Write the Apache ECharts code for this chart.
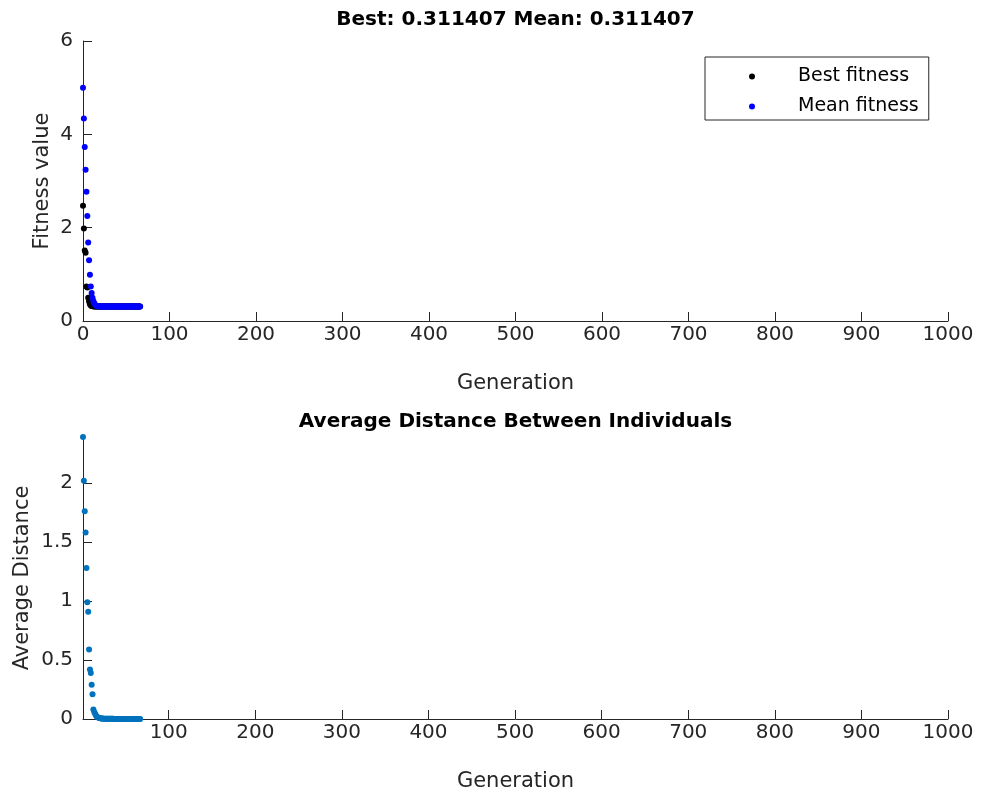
<!DOCTYPE html>
<html>
<head>
<meta charset="utf-8">
<script src="https://cdn.jsdelivr.net/npm/echarts@6/dist/echarts.min.js"></script>
<style>
html,body{margin:0;padding:0;background:#fff;}
#chart{width:982px;height:793px;}
</style>
</head>
<body>
<div id="chart"></div>
<script>
// ---- data ----
var topTitle = 'Best: 0.311407 Mean: 0.311407';
var bottomTitle = 'Average Distance Between Individuals';
var legendNames = ['Best fitness', 'Mean fitness'];
var genTicks = [0, 100, 200, 300, 400, 500, 600, 700, 800, 900, 1000];
var genTicksBottom = [100, 200, 300, 400, 500, 600, 700, 800, 900, 1000];
var fitnessTicks = [0, 2, 4, 6];
var distanceTicks = [0, 0.5, 1, 1.5, 2];
var firstGenTop = 0;
var firstGenBottom = 1;
var bestFitness = [2.47, 1.98, 1.51, 1.46, 0.74, 0.72, 0.50, 0.42, 0.36, 0.33,
  0.32, 0.316, 0.314, 0.313, 0.312, 0.3118, 0.3116, 0.3115, 0.3115, 0.3114,
  0.3114, 0.3114, 0.3114, 0.3114, 0.3114, 0.3114, 0.3114, 0.3114, 0.3114, 0.3114,
  0.3114, 0.3114, 0.3114, 0.3114, 0.3114, 0.3114, 0.3114, 0.3114, 0.3114, 0.3114,
  0.3114, 0.3114, 0.3114, 0.3114, 0.3114, 0.3114, 0.3114, 0.3114, 0.3114, 0.3114,
  0.3114, 0.3114, 0.3114, 0.3114, 0.3114, 0.3114, 0.3114, 0.3114, 0.3114, 0.3114,
  0.3114, 0.3114, 0.3114, 0.3114, 0.3114, 0.3114, 0.311407];
var meanFitness = [5.00, 4.34, 3.73, 3.24, 2.77, 2.25, 1.68, 1.30, 0.99, 0.74,
  0.60, 0.50, 0.43, 0.38, 0.35, 0.33, 0.32, 0.316, 0.314, 0.313,
  0.3125, 0.3121, 0.3119, 0.3117, 0.3116, 0.3115, 0.3115, 0.3114, 0.3114, 0.3114,
  0.3114, 0.3114, 0.3114, 0.3114, 0.3114, 0.3114, 0.3114, 0.3114, 0.3114, 0.3114,
  0.3114, 0.3114, 0.3114, 0.3114, 0.3114, 0.3114, 0.3114, 0.3114, 0.3114, 0.3114,
  0.3114, 0.3114, 0.3114, 0.3114, 0.3114, 0.3114, 0.3114, 0.3114, 0.3114, 0.3114,
  0.3114, 0.3114, 0.3114, 0.3114, 0.3114, 0.3114, 0.311407];
var avgDistance = [2.39, 2.02, 1.76, 1.58, 1.28, 0.99, 0.91, 0.59, 0.42, 0.39,
  0.29, 0.21, 0.08, 0.06, 0.045, 0.03, 0.02, 0.015, 0.011, 0.008,
  0.006, 0.005, 0.004, 0.0035, 0.003, 0.0028, 0.0025, 0.0022, 0.002, 0.0018,
  0.0016, 0.0015, 0.0014, 0.0013, 0.0012, 0.0011, 0.001, 0.001, 0.0009, 0.0009,
  0.0008, 0.0008, 0.0007, 0.0007, 0.0006, 0.0006, 0.0006, 0.0005, 0.0005, 0.0005,
  0.0004, 0.0004, 0.0004, 0.0004, 0.0003, 0.0003, 0.0003, 0.0003, 0.0003, 0.0002,
  0.0002, 0.0002, 0.0002, 0.0002, 0.0002, 0.0001, 0.0001];

// ---- build ----
function pairs(vals, start) {
  var out = [];
  for (var i = 0; i < vals.length; i++) out.push([start + i, vals[i]]);
  return out;
}
function plain(v) { return String(v); }
var FONT = 'DejaVu Sans';
var AX = '#262626';
function axisCommon() {
  return {
    axisLine: { show: true, onZero: false, lineStyle: { color: AX, width: 1 } },
    axisTick: { show: true, inside: true, length: 9, lineStyle: { color: AX, width: 1 } },
    splitLine: { show: false },
    nameMoveOverlap: false,
    nameTextStyle: { color: AX, fontSize: 21, fontFamily: FONT }
  };
}
function merge(a, b) { for (var k in b) a[k] = b[k]; return a; }

var chart = echarts.init(document.getElementById('chart'), null, { renderer: 'canvas' });
chart.setOption({
  animation: false,
  backgroundColor: '#ffffff',
  textStyle: { fontFamily: FONT },
  title: [
    { text: topTitle, left: 515.5, top: 10, textAlign: 'center', padding: 0,
      textStyle: { fontSize: 20, fontWeight: 'bold', color: '#000', fontFamily: FONT } },
    { text: bottomTitle, left: 515.5, top: 412, textAlign: 'center', padding: 0,
      textStyle: { fontSize: 20, fontWeight: 'bold', color: '#000', fontFamily: FONT } }
  ],
  legend: {
    data: legendNames,
    orient: 'vertical',
    left: 705, top: 57,
    padding: [10, 10, 4, 44],
    itemGap: 11,
    itemWidth: 6, itemHeight: 6,
    icon: 'circle',
    borderColor: AX, borderWidth: 1, borderRadius: 0,
    backgroundColor: '#ffffff',
    textStyle: { fontSize: 19, color: '#000', fontFamily: FONT, padding: [0, 0, 0, 38] }
  },
  grid: [
    { left: 83, top: 41, width: 865, height: 280 },
    { left: 83, top: 437, width: 865, height: 282 }
  ],
  xAxis: [
    merge(axisCommon(), {
      type: 'value', gridIndex: 0, min: genTicks[0], max: genTicks[genTicks.length - 1],
      interval: genTicks[1] - genTicks[0],
      name: 'Generation', nameLocation: 'middle', nameGap: 52,
      axisLabel: { color: AX, fontSize: 20, fontFamily: FONT, margin: 4, formatter: plain }
    }),
    merge(axisCommon(), {
      type: 'value', gridIndex: 1, min: firstGenBottom, max: genTicksBottom[genTicksBottom.length - 1],
      name: 'Generation', nameLocation: 'middle', nameGap: 52,
      axisLabel: { color: AX, fontSize: 20, fontFamily: FONT, margin: 4, customValues: genTicksBottom, formatter: plain },
      axisTick: { show: true, inside: true, length: 9, lineStyle: { color: AX, width: 1 }, customValues: genTicksBottom }
    })
  ],
  yAxis: [
    merge(axisCommon(), {
      type: 'value', gridIndex: 0, min: fitnessTicks[0], max: fitnessTicks[fitnessTicks.length - 1],
      interval: fitnessTicks[1] - fitnessTicks[0],
      name: 'Fitness value', nameLocation: 'middle', nameGap: 30,
      axisLabel: { color: AX, fontSize: 20, fontFamily: FONT, margin: 10, formatter: plain }
    }),
    merge(axisCommon(), {
      type: 'value', gridIndex: 1, min: 0, max: avgDistance[0],
      name: 'Average Distance', nameLocation: 'middle', nameGap: 50,
      axisLabel: { color: AX, fontSize: 20, fontFamily: FONT, margin: 10, customValues: distanceTicks, formatter: plain },
      axisTick: { show: true, inside: true, length: 9, lineStyle: { color: AX, width: 1 }, customValues: distanceTicks }
    })
  ],
  series: [
    { name: legendNames[0], type: 'scatter', xAxisIndex: 0, yAxisIndex: 0,
      data: pairs(bestFitness, firstGenTop), symbol: 'circle', symbolSize: 6,
      itemStyle: { color: '#000000', opacity: 1 }, emphasis: { disabled: true } },
    { name: legendNames[1], type: 'scatter', xAxisIndex: 0, yAxisIndex: 0,
      data: pairs(meanFitness, firstGenTop), symbol: 'circle', symbolSize: 6,
      itemStyle: { color: '#0000ff', opacity: 1 }, emphasis: { disabled: true } },
    { name: 'Average Distance', type: 'scatter', xAxisIndex: 1, yAxisIndex: 1,
      data: pairs(avgDistance, firstGenBottom), symbol: 'circle', symbolSize: 6,
      itemStyle: { color: '#0072bd', opacity: 1 }, emphasis: { disabled: true } }
  ]
});
</script>
</body>
</html>
